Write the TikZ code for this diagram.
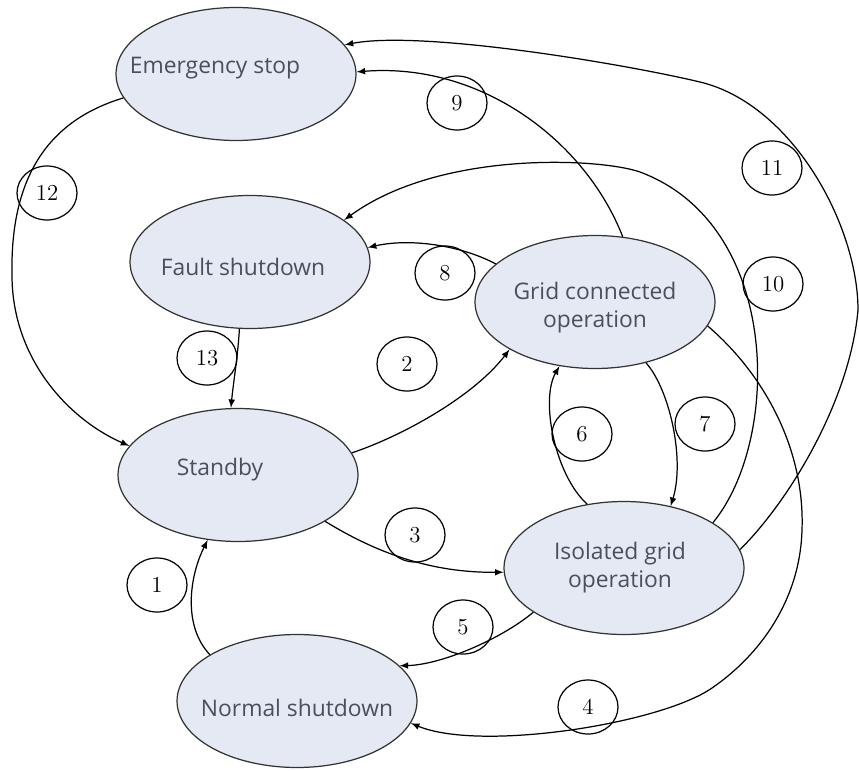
\documentclass[tikz,border=0pt]{standalone}
\usepackage{fontspec}
\newfontfamily\statefont{Open Sans}
\usetikzlibrary{arrows,shapes.geometric}
\definecolor{statefill}{HTML}{E4E9F4}
\definecolor{statetext}{HTML}{4A4F5C}

\begin{document}
\begin{tikzpicture}[x=0.02cm, y=-0.02cm, >=latex, line width=0.7pt,
  state/.style={ellipse, draw=black!80, fill=statefill, minimum width=4.8cm, minimum height=2.66cm, inner sep=0pt},
  stext/.style={font=\statefont\fontsize{13}{16}\selectfont, text=statetext, align=center},
  num/.style={ellipse, draw, minimum width=1.2cm, minimum height=1.08cm, inner sep=0pt, font=\fontsize{13}{15}\selectfont}]

\useasboundingbox (0,0) rectangle (859,771);

% states
\node[state, label={[stext, xshift=-0.42cm, yshift=0.12cm]center:Emergency stop}] (es) at (236,74) {};
\node[state, label={[stext, xshift=-0.14cm, yshift=-0.1cm]center:Fault shutdown}] (fs) at (250,262) {};
\node[state, label={[stext, yshift=-0.12cm]center:Grid connected\\operation}] (gc) at (595,302) {};
\node[state, label={[stext, xshift=-0.36cm, yshift=0.1cm]center:Standby}] (sb) at (238,475) {};
\node[state, label={[stext, xshift=-0.08cm]center:Isolated grid\\operation}] (ig) at (624,568) {};
\node[state, label={[stext, yshift=-0.14cm]center:Normal shutdown}] (ns) at (297,701) {};

% transitions
\draw[->] (ns.152) .. controls (182,625) and (190,575) .. (sb.245);
\draw[->] (sb.11) .. controls (405,435) and (475,395) .. (gc.209);
\draw[->] (sb.332) .. controls (375,552) and (430,573) .. (ig.182);
\draw[->] (gc.348) .. controls (765,375) and (805,450) .. (802,530)
  .. controls (800,600) and (760,655) .. (712,688)
  .. controls (660,724) and (480,752) .. (ns.349);
\draw[->] (ig.206) .. controls (500,640) and (440,665) .. (ns.19);
\draw[->] (ig.120) .. controls (555,475) and (540,400) .. (gc.241);
\draw[->] (gc.310) .. controls (670,390) and (685,460) .. (ig.53);
\draw[->] (gc.159) .. controls (460,245) and (410,238) .. (fs.7);
\draw[->] (gc.67) .. controls (585,140) and (480,62) .. (es.1);
\draw[->] (ig.27) .. controls (781,440) and (782,225) .. (640,172)
  .. controls (600,158) and (440,150) .. (fs.24);
\draw[->] (ig.9) .. controls (790,500) and (850,400) .. (858,310)
  .. controls (858,225) and (792,104) .. (700,82)
  .. controls (620,63) and (420,30) .. (es.15);
\draw[->] (es.192) .. controls (50,120) and (10,175) .. (12,275)
  .. controls (12,360) and (70,420) .. (sb.165);
\draw[->] (fs.261) .. controls (238,355) and (233,385) .. (sb.96);

% transition numbers
\node[num] (n1) at (157,585) {1};
\node[num] (n2) at (407,364) {2};
\node[num] (n3) at (415,535) {3};
\node[num] (n4) at (588,707) {4};
\node[num] (n5) at (463,627) {5};
\node[num] (n6) at (582,434) {6};
\node[num] (n7) at (705,424) {7};
\node[num] (n8) at (445,273) {8};
\node[num] (n9) at (457,103) {9};
\node[num] (n10) at (773,284) {10};
\node[num] (n11) at (772,168) {11};
\node[num] (n12) at (47,193) {12};
\node[num] (n13) at (207,358) {13};

\end{tikzpicture}
\end{document}
